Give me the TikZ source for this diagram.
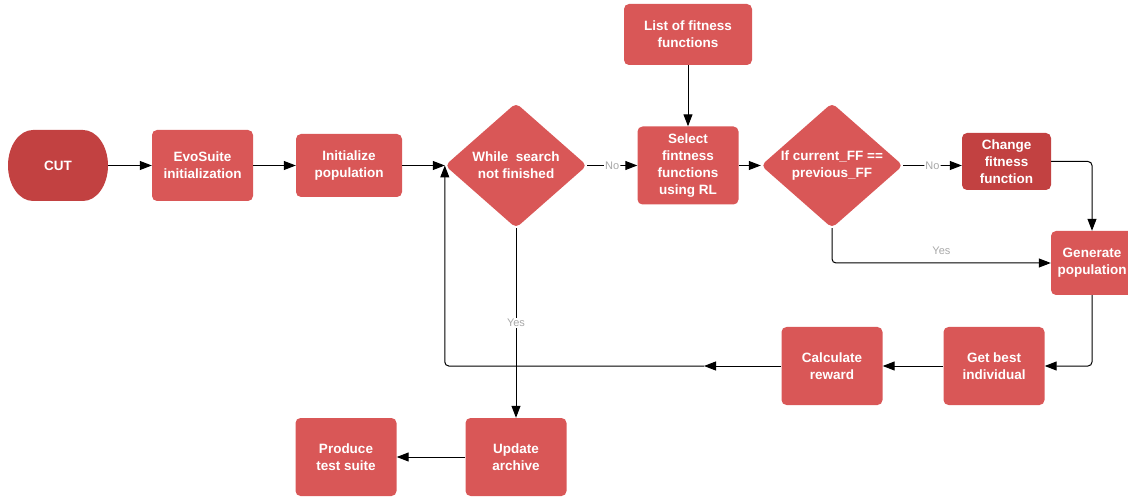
\documentclass[tikz,border=0pt]{standalone}
\usepackage{fontspec}
\setmainfont{Liberation Sans}
\usetikzlibrary{arrows.meta,shapes.geometric}

\definecolor{boxred}{RGB}{217,87,87}
\definecolor{darkred}{RGB}{194,65,65}
\definecolor{lblgray}{RGB}{168,168,168}

\tikzset{
	box/.style={rectangle,rounded corners=5pt,fill=boxred,text=white,align=center,
		inner sep=0pt,font=\fontsize{13.5}{17}\selectfont\bfseries,
		minimum width=101pt,minimum height=78pt},
	decision/.style={diamond,rounded corners=5pt,fill=boxred,inner sep=0pt,
		minimum width=142pt,minimum height=125pt},
	dtext/.style={text=white,align=center,inner sep=0pt,
		font=\fontsize{13.5}{17}\selectfont\bfseries},
	lbl/.style={text=lblgray,font=\fontsize{11}{13}\selectfont,inner sep=1pt}
}

\begin{document}
\begin{tikzpicture}[x=1pt,y=-1pt]

\useasboundingbox (0,0) rectangle (1128,497);

% terminal with elliptic ends
\fill[darkred] (33,130) -- (83,130)
	arc[start angle=90,end angle=-90,x radius=25,y radius=-35.5]
	-- (33,201)
	arc[start angle=270,end angle=90,x radius=25,y radius=-35.5] -- cycle;
\node[text=white,font=\fontsize{13.5}{17}\selectfont\bfseries,inner sep=0pt,
	minimum width=100pt,minimum height=71pt] (cut) at (58,165.5) {CUT};

\node[box,minimum height=71pt] (evo) at (202.5,165.5) {EvoSuite\\initialization};
\node[box,minimum width=106pt,minimum height=63pt] (init) at (349,165.5) {Initialize\\population};
\node[decision,label={[dtext]center:{While~ search\\not finished}}] (while) at (516,165.5) {};
\node[box,minimum width=128pt,minimum height=61pt] (list) at (688,34.5) {List of fitness\\functions};
\node[box] (select) at (688,165.5) {Select\\fintness\\functions\\using RL};
\node[decision,label={[dtext]center:{If current\_FF ==\\previous\_FF}}] (ifff) at (832,165.5) {};
\node[box,fill=darkred,minimum width=89pt,minimum height=57pt] (change) at (1006.5,161.5) {Change\\fitness\\function};
\node[box,minimum width=82pt,minimum height=64pt] (gen) at (1092,263) {Generate\\population};
\node[box] (best) at (994,366) {Get best\\individual};
\node[box] (reward) at (832,366) {Calculate\\reward};
\node[box] (update) at (516,457) {Update\\archive};
\node[box] (produce) at (346,457) {Produce\\test suite};

\coordinate (back) at (704,366);

\begin{scope}[>={Triangle[length=12pt,width=9pt]}, line width=1pt, rounded corners=4pt]
	\draw[->] (cut) -- (evo);
	\draw[->] (evo) -- (init);
	\draw[->] (init) -- (while.west);
	\draw[->] (while.east) -- node[lbl,fill=white] {No} (select);
	\draw[->] (list) -- (select);
	\draw[->] (select) -- (ifff.west);
	\draw[->] (ifff.east) -- node[lbl,fill=white] {No} (ifff.east -| change.west);
	\draw[->] (change.east) -| (gen.north);
	\draw[->] (ifff.south) |- node[lbl,pos=0.75,above=7pt] {Yes} (gen.west);
	\draw[->] (gen.south) |- (best.east);
	\draw[->] (best) -- (reward);
	\draw[->] (reward) -- (back);
	\draw[->] (back) -| (while.west);
	\draw[->] (while.south) -- node[lbl,fill=white] {Yes} (update.north);
	\draw[->] (update) -- (produce);
\end{scope}

\end{tikzpicture}
\end{document}
